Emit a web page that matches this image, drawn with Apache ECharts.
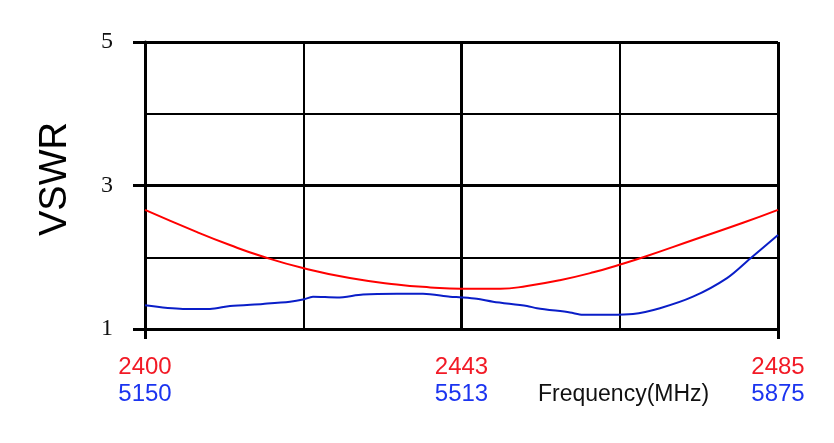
<!DOCTYPE html>
<html>
<head>
<meta charset="utf-8">
<script src="https://cdn.jsdelivr.net/npm/echarts@6/dist/echarts.min.js"></script>
<style>
html,body{margin:0;padding:0;background:#fff;}
#chart{width:834px;height:443px;}
</style>
</head>
<body>
<div id="chart"></div>
<script>
// Red band (2.4 GHz): frequency in MHz and VSWR
const redFreq = [2400, 2407, 2411.4, 2415.8, 2421.2, 2427.5, 2433.8, 2438.3, 2442.4, 2447.7, 2451.3, 2455.7, 2460.2, 2463.8, 2466.9, 2473.6, 2480.3, 2485];
const redVswr = [2.66, 2.35, 2.17, 2.01, 1.85, 1.71, 1.62, 1.58, 1.56, 1.56, 1.60, 1.68, 1.79, 1.90, 2.00, 2.24, 2.48, 2.66];
// Blue band (5 GHz): frequency in MHz and VSWR
const blueFreq = [5150, 5193.5, 5224.4, 5247.4, 5285, 5316, 5331, 5342.4, 5370, 5399.7, 5438.6, 5468.4, 5499.3, 5512.5, 5530, 5548.6, 5587.5, 5599, 5636.8, 5651.6, 5682.6, 5708.9, 5739.8, 5777.6, 5816.6, 5842.9, 5875];
const blueVswr = [1.33, 1.28, 1.28, 1.32, 1.35, 1.38, 1.41, 1.45, 1.44, 1.48, 1.49, 1.49, 1.45, 1.44, 1.42, 1.38, 1.32, 1.29, 1.23, 1.20, 1.20, 1.21, 1.29, 1.45, 1.71, 1.98, 2.31];
// Tick labels
const redTicks = [2400, 2442.5, 2485];
const blueTicks = [5150, 5512.5, 5875];
const yTicks = [1, 3, 5];
const yName = 'VSWR';
const xName = 'Frequency(MHz)';

const redColor = '#f21a26';
const blueColor = '#1b34f0';
const sans = 'Liberation Sans, Arial, sans-serif';
const serif = 'Liberation Serif, Times New Roman, serif';

const chart = echarts.init(document.getElementById('chart'));
chart.setOption({
  animation: false,
  backgroundColor: '#fff',
  grid: {left: 145, right: 56, top: 42, bottom: 114, containLabel: false},
  xAxis: [
    {
      type: 'value', min: 2400, max: 2485, position: 'bottom',
      axisLine: {show: false},
      splitLine: {show: false},
      axisTick: {show: true, customValues: [2400, 2485], length: 10, lineStyle: {color: '#000', width: 3}},
      axisLabel: {customValues: redTicks, formatter: v => String(Math.round(v)), color: redColor, fontSize: 24, fontFamily: sans, margin: 26}
    },
    {
      type: 'value', min: 5150, max: 5875, position: 'bottom',
      axisLine: {show: false},
      splitLine: {show: false},
      axisTick: {show: false},
      axisLabel: {customValues: blueTicks, formatter: v => String(Math.round(v)), color: blueColor, fontSize: 24, fontFamily: sans, margin: 53}
    },
    {
      type: 'value', min: 0, max: 4, interval: 1, position: 'top',
      axisLine: {show: false}, axisTick: {show: false}, axisLabel: {show: false},
      splitLine: {show: true, lineStyle: {color: '#000', width: 2}}
    },
    {
      type: 'value', min: 0, max: 2, interval: 1, position: 'top',
      axisLine: {show: false}, axisTick: {show: false}, axisLabel: {show: false},
      splitLine: {show: true, lineStyle: {color: '#000', width: 3}}
    }
  ],
  yAxis: [
    {
      type: 'value', min: 1, max: 5, interval: 1,
      axisLine: {show: false}, axisTick: {show: false}, axisLabel: {show: false},
      splitLine: {show: true, lineStyle: {color: '#000', width: 2}}
    },
    {
      type: 'value', min: 1, max: 5, interval: 2, position: 'left',
      axisLine: {show: true, lineStyle: {color: '#000', width: 3}},
      axisTick: {show: true, customValues: yTicks, length: 12, lineStyle: {color: '#000', width: 3}},
      axisLabel: {customValues: yTicks, color: '#111', fontSize: 24, fontFamily: serif, margin: 32},
      splitLine: {show: true, lineStyle: {color: '#000', width: 3}}
    }
  ],
  graphic: [
    {
      type: 'text', x: 56, y: 179, rotation: Math.PI / 2,
      style: {text: yName, font: '38px ' + sans, fill: '#000', textAlign: 'center', textVerticalAlign: 'middle'}
    },
    {
      type: 'text', x: 538, y: 395,
      style: {text: xName, font: '23px ' + sans, fill: '#111', textAlign: 'left', textVerticalAlign: 'middle'}
    }
  ],
  series: [
    {
      type: 'line', xAxisIndex: 0, yAxisIndex: 0, smooth: true, showSymbol: false,
      lineStyle: {color: '#ff0000', width: 2}, z: 5,
      data: redFreq.map((f, i) => [f, redVswr[i]])
    },
    {
      type: 'line', xAxisIndex: 1, yAxisIndex: 0, smooth: 0.3, showSymbol: false,
      lineStyle: {color: '#0a1ec8', width: 2}, z: 5,
      data: blueFreq.map((f, i) => [f, blueVswr[i]])
    }
  ]
});
</script>
</body>
</html>
